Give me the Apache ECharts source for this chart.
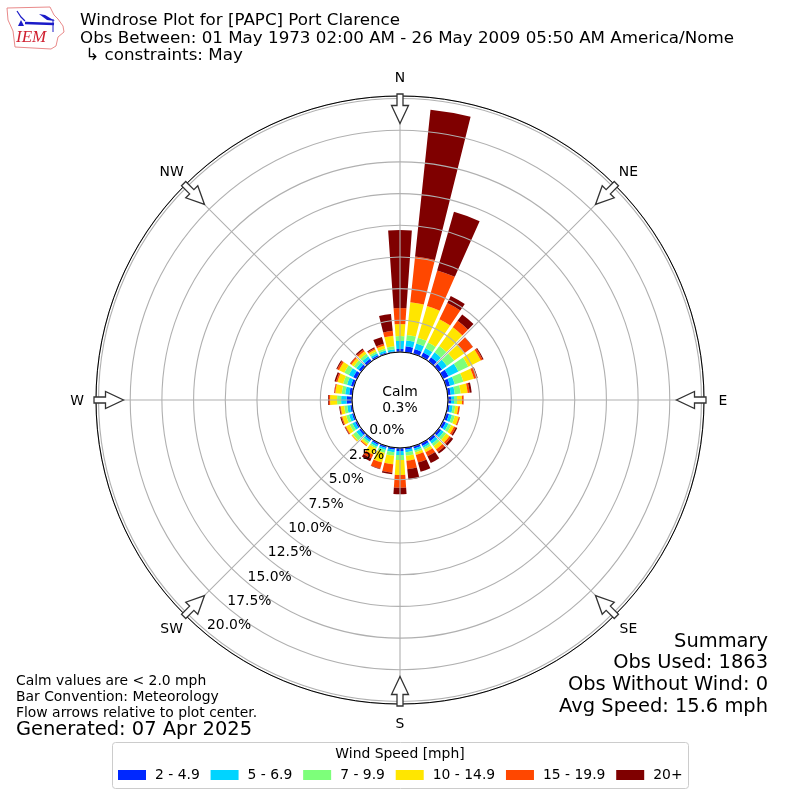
<!DOCTYPE html>
<html><head><meta charset="utf-8">
<style>html,body{margin:0;padding:0;background:#fff}#c{width:800px;height:800px}</style>
<script src="https://cdn.jsdelivr.net/npm/echarts@6/dist/echarts.min.js"></script>
</head><body><div id="c"></div>
<script>
const bearings = ['0','10','20','30','40','50','60','70','80','90','100','110','120','130','140','150','160','170','180','190','200','210','220','230','240','250','260','270','280','290','300','310','320','330','340','350'];
const bin1 = [.24,.47,.39,.39,.39,.32,.47,.32,.24,.24,.16,.24,.24,.24,.24,.24,.2,.16,.24,.16,.16,.16,.16,.2,.16,.16,.16,.43,.24,.24,.32,.24,.24,.16,.12,.08];
const bin2 = [.63,.47,.47,.39,.47,.47,.87,.39,.32,.24,.24,.24,.24,.24,.24,.16,.16,.2,.32,.2,.16,.16,.16,.28,.24,.24,.24,.43,.32,.32,.39,.24,.24,.16,.16,.16];
const bin3 = [.39,.43,.47,.47,.63,.71,.87,.71,.47,.24,.2,.24,.24,.24,.24,.16,.16,.28,.39,.28,.24,.16,.16,.32,.24,.24,.24,.32,.28,.32,.39,.24,.24,.16,.16,.24];
const bin4 = [.95,2.6,2.6,2.05,1.81,1.03,1.1,.87,.55,.39,.24,.32,.24,.32,.32,.24,.2,.39,1.18,.67,.79,.55,.16,.12,.32,.32,.28,.55,.51,.47,.47,.24,.24,.16,.24,.83];
const bin5 = [1.26,3.63,2.92,1.42,.63,.79,.16,.24,.16,.12,.12,.08,.16,.16,.24,.36,.63,.67,1.0,.67,.51,.32,.08,.02,.08,.08,.06,.1,.08,.12,.16,.12,.16,.12,.16,.39];
const bin6 = [6.15,11.64,4.81,.63,.63,.02,.08,.06,.16,.01,.01,.02,.12,.2,.16,.59,.75,.83,.52,.12,.04,.24,0,0,.04,.08,.06,.06,.02,.12,.08,.02,.12,.08,.55,1.34];
const binNames = ['2 - 4.9','5 - 6.9','7 - 9.9','10 - 14.9','15 - 19.9','20+'];
const binColors = ['#0028ff','#00d4ff','#7dff7a','#ffe600','#ff4700','#7f0000'];
const compass = ['N','NE','E','SE','S','SW','W','NW'];
const radialTicks = ['0.0%','2.5%','5.0%','7.5%','10.0%','12.5%','15.0%','17.5%','20.0%'];
const titleLines = ['Windrose Plot for [PAPC] Port Clarence','Obs Between: 01 May 1973 02:00 AM - 26 May 2009 05:50 AM America/Nome',' \u21b3 constraints: May'];
const summaryLines = ['Summary','Obs Used: 1863','Obs Without Wind: 0','Avg Speed: 15.6 mph'];
const noteLines = ['Calm values are < 2.0 mph','Bar Convention: Meteorology','Flow arrows relative to plot center.'];
const generated = 'Generated: 07 Apr 2025';
const calmLines = ['Calm','0.3%'];

const FONT = '"DejaVu Sans"';
const C = 400, R0 = 48, R1 = 304, RMAX = 20.2, RLABEL = 323;
const bins = [bin1,bin2,bin3,bin4,bin5,bin6];
const polarPos = {center:[C,C], radius:[R0,R1]};

function arrow(deg){
  const a = deg*Math.PI/180, ux=Math.sin(a), uy=-Math.cos(a), px=Math.cos(a), py=Math.sin(a);
  const P=(r,w)=>[C+ux*r+px*w, C+uy*r+py*w];
  return {type:'polygon', z:50, silent:true,
    shape:{points:[P(306,-3),P(306,3),P(294.5,3),P(294.5,8.5),P(276.5,0),P(294.5,-8.5),P(294.5,-3)]},
    style:{fill:'#fff',stroke:'#333',lineWidth:1.3}};
}
const txt=(t,x,y,size,align)=>({type:'text',z:60,silent:true,x,y,style:{text:t,x:0,y:0,fill:'#000',font:`${size}px ${FONT}`,textAlign:align||'left',textVerticalAlign:'middle'}});
const compassLabel=(t,i)=>{const a=i*Math.PI/4;return txt(t,C+RLABEL*Math.sin(a),C+1-RLABEL*Math.cos(a),13.9,'center');};

const graphicEls = [
  ...compass.map((_,i)=>arrow(i*45)),
  ...compass.map(compassLabel),
  ...calmLines.map((t,i)=>txt(t,C,392+i*16,13.9,'center')),
  ...summaryLines.map((t,i)=>txt(t,768,641.5+i*21.7,19.45,'right')),
  ...noteLines.map((t,i)=>txt(t,16,681.5+i*16,13.9)),
  txt(generated,16,730,19.45),
  {type:'rect',z:40,silent:true,shape:{x:112.5,y:742.5,width:576,height:46,r:3},style:{fill:'#fff',stroke:'#ccc',lineWidth:1}},
  txt('Wind Speed [mph]',400,754.5,13.9,'center'),
  // logo
  {type:'polyline',z:60,silent:true,shape:{points:[[7,8],[50,7],[54,15],[58,19],[63,26],[64,32],[58,37],[56,46],[51,49],[15,47],[13,31],[8,20],[7,8]]},style:{fill:'none',stroke:'#e98a8a',lineWidth:1}},
  {type:'polyline',z:61,silent:true,shape:{points:[[17,11],[21,17],[25,21]]},style:{fill:'none',stroke:'#1a1ac8',lineWidth:1.2}},
  {type:'polyline',z:61,silent:true,shape:{points:[[25,23],[54,24]]},style:{fill:'none',stroke:'#1a1ac8',lineWidth:2.5}},
  {type:'polygon',z:61,silent:true,shape:{points:[[39,14],[45,15],[55,21],[47,20]]},style:{fill:'#1a1ac8'}},
  {type:'polygon',z:61,silent:true,shape:{points:[[21,20],[24,26],[18,26]]},style:{fill:'#1a1ac8'}},
  {type:'polyline',z:61,silent:true,shape:{points:[[53,19],[53,32]]},style:{fill:'none',stroke:'#1a1ac8',lineWidth:1}},
  {type:'text',z:62,silent:true,x:16,y:38,style:{text:'IEM',x:0,y:0,fill:'#d02030',font:'italic 17px "Liberation Serif"',textAlign:'left',textVerticalAlign:'middle'}}
];

const radAxisBase = {min:0,max:RMAX,interval:2.5,axisLine:{show:false},axisTick:{show:false},splitArea:{show:false}};
const option = {
  backgroundColor:'#fff', animation:false,
  title:{text:titleLines.join('\n'),left:80,top:12,padding:0,itemGap:0,textStyle:{fontFamily:FONT,fontWeight:'normal',fontSize:16.7,lineHeight:17.6,color:'#000'}},
  legend:{left:118,top:768,itemWidth:28,itemHeight:10,itemGap:10.8,z:45,icon:'rect',selectedMode:false,padding:0,textStyle:{fontFamily:FONT,fontSize:13.9,color:'#000',padding:[0,0,0,4]},data:binNames},
  polar:[{...polarPos},{...polarPos},{center:[C,C+1],radius:[R0,R1]}],
  angleAxis:[
    {polarIndex:0,type:'category',data:bearings,startAngle:95,clockwise:true,boundaryGap:true,show:false},
    {polarIndex:1,type:'value',min:0,max:360,interval:45,startAngle:90,clockwise:true,z:6,
      axisLine:{show:true,lineStyle:{color:'#000',width:1}},axisTick:{show:false},
      splitLine:{show:true,lineStyle:{color:'#b0b0b0',width:1.1}},
      axisLabel:{show:false}},
    {polarIndex:2,type:'value',min:0,max:360,startAngle:-129.8,clockwise:true,show:false}
  ],
  radiusAxis:[
    {...radAxisBase,polarIndex:0,show:false},
    {...radAxisBase,polarIndex:1,z:5,axisLabel:{show:false},splitLine:{show:true,lineStyle:{color:'#b0b0b0',width:1.1}}},
    {...radAxisBase,polarIndex:2,z:7,splitLine:{show:false},axisLabel:{show:true,margin:0,rotate:0,align:'left',verticalAlign:'bottom',fontFamily:FONT,fontSize:13.9,color:'#000',showMaxLabel:false,
      formatter:v=>radialTicks[Math.round(v/2.5)]&&Math.abs(v/2.5-Math.round(v/2.5))<1e-6?radialTicks[Math.round(v/2.5)]:''}}
  ],
  series:bins.map((d,i)=>({type:'bar',name:binNames[i],coordinateSystem:'polar',polarIndex:0,stack:'wind',data:d,barWidth:'80%',itemStyle:{color:binColors[i]},silent:true,z:2})),
  graphic:{elements:graphicEls}
};
const chart = echarts.init(document.getElementById('c'),null,{renderer:'canvas'});
chart.setOption(option);
</script></body></html>
